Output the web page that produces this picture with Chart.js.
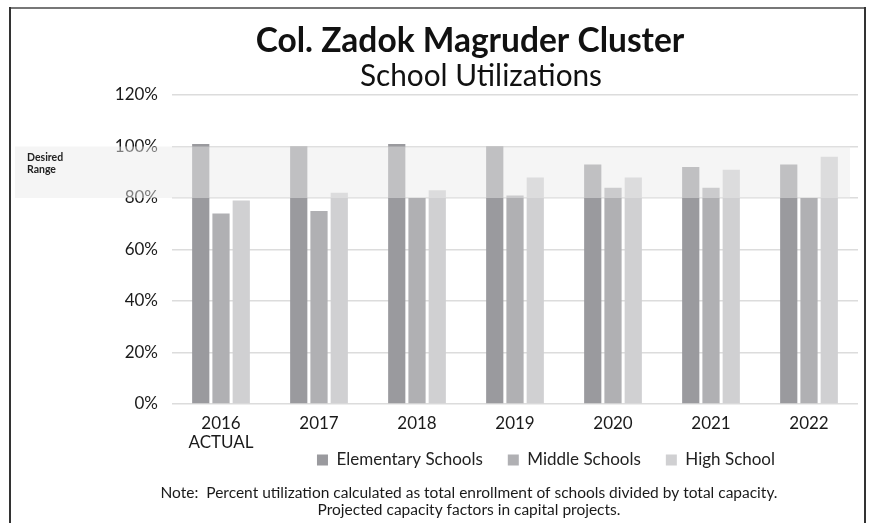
<!DOCTYPE html>
<html>
<head>
<meta charset="utf-8">
<script src="https://cdn.jsdelivr.net/npm/chart.js@4/dist/chart.umd.min.js"></script>
<style>
  html, body { margin: 0; padding: 0; background: #fff; }
  #wrap { width: 871px; height: 523px; position: relative; }
</style>
</head>
<body>
<div id="wrap"><canvas id="c" width="871" height="523"></canvas></div>
<script>
const categories = [["2016", "ACTUAL"], "2017", "2018", "2019", "2020", "2021", "2022"];
const elementary = [101, 100, 101, 100, 93, 92, 93];
const middle = [74, 75, 80, 81, 84, 84, 80];
const high = [79, 82, 83, 88, 88, 91, 96];
const seriesNames = ["Elementary Schools", "Middle Schools", "High School"];
const yTicks = [0, 20, 40, 60, 80, 100, 120];
const desiredRange = [80, 100];
const titleText = "Col. Zadok Magruder Cluster";
const subtitleText = "School Utilizations";
const noteLines = [
  "Note:  Percent utilization calculated as total enrollment of schools divided by total capacity.",
  "Projected capacity factors in capital projects."
];
const bandLabel = ["Desired", "Range"];

const FONT = "Lato, 'Open Sans', sans-serif";
const LEGEND_PAD = 25;

const decor = {
  id: 'decor',
  afterLayout(chart) {
    const lg = chart.legend;
    if (lg) {
      const w = lg.width;
      const center = 546;
      lg.left = center - w / 2;
      lg.right = center + w / 2;
      const h = lg.height;
      lg.top = 460 - 8.5 - LEGEND_PAD;
      lg.bottom = lg.top + h;
    }
  },
  afterDatasetsDraw(chart) {
    const ctx = chart.ctx;
    const y = chart.scales.y;
    const top = y.getPixelForValue(desiredRange[1]);
    const bot = y.getPixelForValue(desiredRange[0]);
    ctx.save();
    ctx.fillStyle = 'rgba(234,234,234,0.475)';
    ctx.fillRect(15, top, 850 - 15, bot - top);
    ctx.fillStyle = '#222';
    ctx.font = "bold 10.5px " + FONT;
    ctx.textAlign = 'left';
    ctx.textBaseline = 'middle';
    ctx.fillText(bandLabel[0], 27, top + 11);
    ctx.fillText(bandLabel[1], 27, top + 23);
    ctx.restore();
  },
  afterDraw(chart) {
    const ctx = chart.ctx;
    ctx.save();
    // frame
    ctx.lineWidth = 2;
    ctx.strokeStyle = '#777';
    ctx.beginPath(); ctx.moveTo(9, 8); ctx.lineTo(866, 8); ctx.stroke();
    ctx.strokeStyle = '#333';
    ctx.beginPath(); ctx.moveTo(10, 7); ctx.lineTo(10, 523); ctx.stroke();
    ctx.beginPath(); ctx.moveTo(865, 7); ctx.lineTo(865, 523); ctx.stroke();
    // titles
    ctx.fillStyle = '#111';
    ctx.textAlign = 'center';
    ctx.textBaseline = 'alphabetic';
    ctx.font = "bold 33.5px " + FONT;
    ctx.fillText(titleText, 470, 52, 432);
    ctx.font = "30px " + FONT;
    ctx.fillText(subtitleText, 481, 86, 242);
    // note
    ctx.font = "15.5px " + FONT;
    ctx.fillStyle = '#1a1a1a';
    ctx.fillText(noteLines[0], 469, 498, 620);
    ctx.fillText(noteLines[1], 469, 515);
    ctx.restore();
  }
};

new Chart(document.getElementById('c'), {
  type: 'bar',
  data: {
    labels: categories,
    datasets: [
      { label: seriesNames[0], data: elementary, backgroundColor: '#9a9a9e' },
      { label: seriesNames[1], data: middle, backgroundColor: '#b0b0b3' },
      { label: seriesNames[2], data: high, backgroundColor: '#d0d0d2' }
    ]
  },
  options: {
    responsive: false,
    animation: false,
    layout: { padding: { left: 0, right: 13, top: 95, bottom: 21 } },
    datasets: { bar: { categoryPercentage: 0.62, barPercentage: 0.85 } },
    plugins: {
      legend: {
        position: 'bottom',
        labels: {
          boxWidth: 11, boxHeight: 11, padding: LEGEND_PAD,
          color: '#222',
          font: { family: FONT, size: 17 }
        }
      },
      title: { display: false },
      tooltip: { enabled: false }
    },
    scales: {
      x: {
        grid: { display: false, drawTicks: false },
        border: { display: false },
        ticks: {
          color: '#1a1a1a',
          font: { family: FONT, size: 17, lineHeight: 1.1 },
          padding: 10,
          maxRotation: 0
        },
        afterFit(axis) { axis.height = 46; }
      },
      y: {
        min: 0, max: 120,
        afterBuildTicks(axis) { axis.ticks = yTicks.map(v => ({ value: v })); },
        grid: { color: '#dcdcdc', lineWidth: 1.5, drawTicks: false },
        border: { display: false },
        ticks: {
          color: '#1a1a1a',
          font: { family: FONT, size: 17 },
          padding: 14,
          callback: v => v + '%'
        },
        afterFit(axis) { axis.width = 172; }
      }
    }
  },
  plugins: [decor]
});
</script>
</body>
</html>
